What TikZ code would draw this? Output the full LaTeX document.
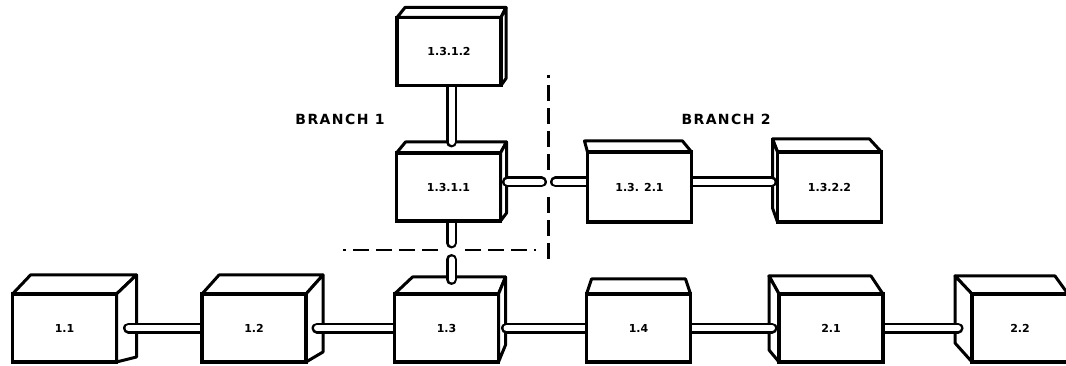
\documentclass[tikz,border=0pt]{standalone}
\usepackage{fontspec}
\newfontfamily\boxfont{DejaVu Sans}
\newfontfamily\branchfont{DejaVu Sans}[LetterSpace=10]
\usetikzlibrary{calc}
\pgfdeclarelayer{front}
\pgfsetlayers{main,front}

\tikzset{
  unit/.style={draw, fill=white, line width=3.5pt, rectangle, inner sep=0pt,
    outer sep=0pt, minimum width=104pt, minimum height=68pt,
    font=\boxfont\bfseries\fontsize{11}{13}\selectfont},
  face/.style={draw, fill=white, line width=3pt, line join=round},
  tube/.style={double=white, double distance=6pt, line width=2.5pt, line cap=round},
  dashline/.style={line width=2.5pt, dash pattern=on 16pt off 7pt},
  branch/.style={font=\branchfont\bfseries\fontsize{14}{16}\selectfont}
}

\begin{document}
\begin{tikzpicture}[x=1pt, y=-1pt]
        \useasboundingbox (0,0) rectangle (1066,366);

        \begin{pgfonlayer}{front}
        % main line
        \node[unit] (b11) at (64.5,328) {1.1};
        \node[unit] (b12) at (254,328) {1.2};
        \node[unit] (b13) at (446.5,328) {1.3};
        \node[unit] (b14) at (638.5,328) {1.4};
        \node[unit] (b21) at (831,328) {2.1};
        \node[unit, minimum width=96pt] (b22) at (1020,328) {2.2};

        % branch 1
        \node[unit] (b1312) at (449,51.5) {1.3.1.2};
        \node[unit] (b1311) at (448.5,187) {1.3.1.1};

        % branch 2
        \node[unit, minimum height=70pt] (b1321) at (639.5,187) {1.3. 2.1};
        \node[unit, minimum height=70pt] (b1322) at (829.5,187) {1.3.2.2};
        \end{pgfonlayer}

        % top faces
        \foreach \n/\dl/\dr/\dy in {b11/18/20/-19, b12/17/17/-19, b13/18/7/-17,
          b14/5/-5/-15, b21/-10/-12/-18, b22/-17/-13/-18, b1312/8/5/-10,
          b1311/9/6/-11, b1321/-3/-9/-11, b1322/-5/-12/-13}
          \draw[face] (\n.north west) -- ++(\dl,\dy)
            -- ([shift={(\dr,\dy)}]\n.north east) -- (\n.north east) -- cycle;

        % right faces
        \foreach \n/\dr/\dy/\db in {b11/20/-19/-5, b12/17/-19/-10, b13/7/-17/-17,
          b1312/5/-10/-7, b1311/6/-11/-8}
          \draw[face] (\n.north east) -- ++(\dr,\dy)
            -- ([shift={(\dr,\db)}]\n.south east) -- (\n.south east) -- cycle;

        % left faces
        \foreach \n/\dl/\dy/\db in {b21/-10/-18/-12, b22/-17/-18/-19,
          b1322/-5/-13/-14}
          \draw[face] (\n.north west) -- ++(\dl,\dy)
            -- ([shift={(\dl,\db)}]\n.south west) -- (\n.south west) -- cycle;

        \node[branch] (br1) at (340,119) {BRANCH 1};
        \node[branch] (br2) at (726,119) {BRANCH 2};

        % dashed cut
        \coordinate (vtop) at (548.5,75);
        \coordinate (vgapU) at (548.5,170);
        \coordinate (vgapD) at (548.5,197);
        \coordinate (vbot) at (548.5,265);
        \coordinate (hleft) at (343,250);
        \coordinate (hgapL) at (438,250);
        \coordinate (hgapR) at (465,250);
        \coordinate (hright) at (536,250);
        \draw[dashline] (vgapU) -- (vtop);
        \draw[dashline] (vgapD) -- (vbot);
        \draw[dashline] (hgapL) -- (hleft);
        \draw[dashline] (hgapR) -- (hright);

        % tubes
        \draw[tube] ([xshift=12pt]b11.east) -- (b12.west);
        \draw[tube] ([xshift=11pt]b12.east) -- (b13.west);
        \draw[tube] ([xshift=8pt]b13.east) -- (b14.west);
        \draw[tube] (b14.east) -- ([xshift=-7pt]b21.west);
        \draw[tube] (b21.east) -- ([xshift=-14pt]b22.west);

        \draw[tube] ([xshift=2.5pt]b1312.south) -- ([xshift=3pt,yshift=11pt]b1311.north);

        \coordinate (tgapU) at (451.5,243);
        \coordinate (tgapD) at (451.5,259.5);
        \draw[tube] ([xshift=3pt]b1311.south) -- (tgapU);
        \draw[tube] (tgapD) -- ([xshift=5pt,yshift=14.5pt]b13.north);

        \coordinate (tgapL) at (541.5,182);
        \coordinate (tgapR) at (555.5,182);
        \draw[tube] ([xshift=7pt,yshift=5pt]b1311.east) -- (tgapL);
        \draw[tube] (tgapR) -- ([yshift=5pt]b1321.west);
        \draw[tube] ([yshift=5pt]b1321.east) -- ([xshift=-6pt,yshift=5pt]b1322.west);
\end{tikzpicture}
\end{document}
